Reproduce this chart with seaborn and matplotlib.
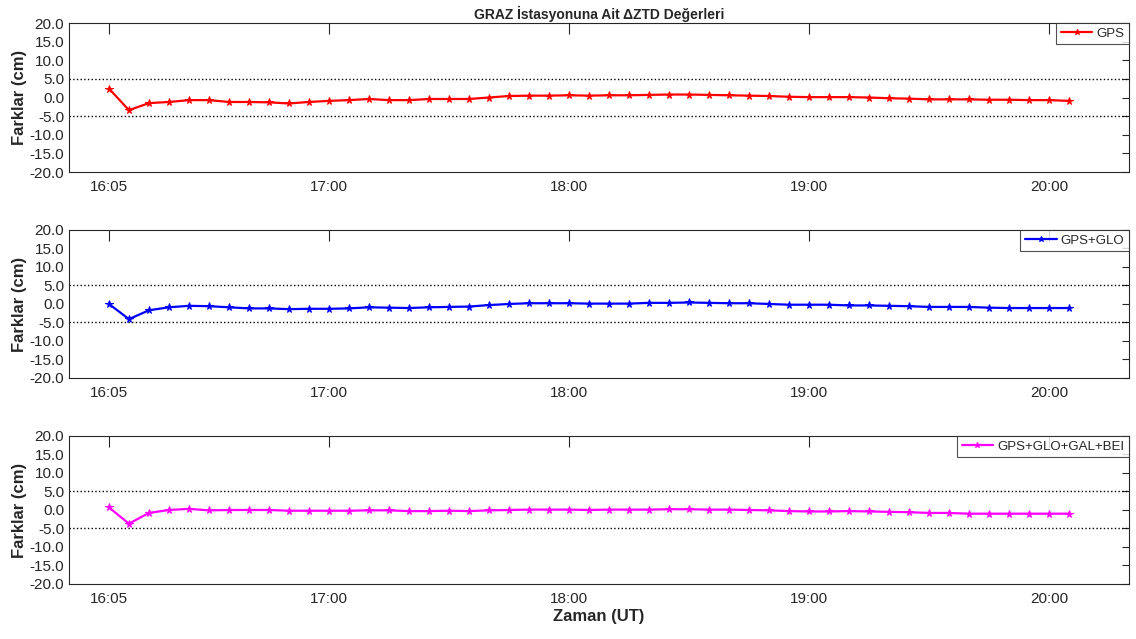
import pandas as pd
import matplotlib
matplotlib.use("Agg")
import matplotlib.pyplot as plt
import matplotlib.dates as mdates
import seaborn as sns


OUTPUT_PATH = "out.png"

TITLE = "GRAZ İstasyonuna Ait ΔZTD Değerleri"
Y_LABEL = "Farklar (cm)"
X_LABEL = "Zaman (UT)"

# epochs every 5 min, 16:05 - 20:05
START_TIME = "2020-01-01 16:05"
N_EPOCHS = 49
TICK_TIMES = ["16:05", "17:00", "18:00", "19:00", "20:00"]

SERIES_NAMES = ["GPS", "GPS+GLO", "GPS+GLO+GAL+BEI"]
SERIES_COLORS = ["#ff0000", "#0000ff", "#ff00ff"]

gps = [2.4, -3.4, -1.5, -1.2, -0.7, -0.7, -1.2, -1.2, -1.3, -1.6,
       -1.2, -0.9, -0.7, -0.4, -0.7, -0.7, -0.4, -0.4, -0.4, 0.0,
       0.4, 0.5, 0.5, 0.6, 0.5, 0.6, 0.6, 0.7, 0.8, 0.8,
       0.7, 0.6, 0.5, 0.4, 0.2, 0.1, 0.1, 0.1, 0.0, -0.2,
       -0.3, -0.5, -0.5, -0.5, -0.6, -0.6, -0.7, -0.7, -0.9]

gps_glo = [0.0, -4.1, -1.7, -0.9, -0.5, -0.6, -0.9, -1.2, -1.2, -1.4,
           -1.3, -1.3, -1.2, -0.9, -1.0, -1.1, -0.9, -0.8, -0.7, -0.3,
           0.0, 0.2, 0.2, 0.2, 0.1, 0.1, 0.1, 0.3, 0.3, 0.4,
           0.3, 0.2, 0.2, 0.0, -0.2, -0.2, -0.2, -0.4, -0.4, -0.5,
           -0.6, -0.8, -0.8, -0.8, -1.0, -1.1, -1.1, -1.1, -1.1]

gps_glo_gal_bei = [0.7, -3.7, -0.8, 0.0, 0.3, -0.1, 0.0, 0.0, 0.0, -0.2,
                   -0.2, -0.2, -0.2, -0.1, -0.1, -0.3, -0.3, -0.2, -0.3, -0.1,
                   0.0, 0.1, 0.1, 0.1, 0.0, 0.1, 0.1, 0.1, 0.2, 0.2,
                   0.1, 0.1, 0.0, -0.1, -0.3, -0.4, -0.4, -0.3, -0.4, -0.5,
                   -0.6, -0.8, -0.8, -1.0, -1.0, -1.0, -1.0, -1.0, -1.0]

SERIES_VALUES = [gps, gps_glo, gps_glo_gal_bei]

Y_TICKS = [-20, -15, -10, -5, 0, 5, 10, 15, 20]
LIMIT_LINES = [5, -5]


def build_frame() -> pd.DataFrame:
    """Long table of epochs and differences for each solution."""
    times = pd.date_range(START_TIME, periods=N_EPOCHS, freq="5min")
    frames = []
    for name, values in zip(SERIES_NAMES, SERIES_VALUES):
        frames.append(pd.DataFrame({"time": times, "diff": values, "solution": name}))
    return pd.concat(frames, ignore_index=True)


def style_axis(ax, show_xlabel: bool):
    day = START_TIME.split()[0]
    ax.set_xlim(pd.Timestamp(f"{day} 15:55"), pd.Timestamp(f"{day} 20:20"))
    ax.set_ylim(-20, 20)
    ax.set_yticks(Y_TICKS)
    ax.yaxis.set_major_formatter(matplotlib.ticker.FormatStrFormatter("%.1f"))
    ax.set_xticks([pd.Timestamp(f"{day} {t}") for t in TICK_TIMES])
    ax.xaxis.set_major_formatter(mdates.DateFormatter("%H:%M"))

    ax.tick_params(axis="both", direction="in", top=True, right=True,
                   labelsize=11, colors="#262626", length=5, width=0.8)
    ax.tick_params(axis="x", length=8, pad=6)
    for spine in ax.spines.values():
        spine.set_color("#262626")
        spine.set_linewidth(0.8)

    for level in LIMIT_LINES:
        ax.axhline(level, color="black", linestyle=":", linewidth=1.0)

    ax.set_ylabel(Y_LABEL, fontsize=12, fontweight="bold", labelpad=2)
    if show_xlabel:
        ax.set_xlabel(X_LABEL, fontsize=12, fontweight="bold", labelpad=2)
    else:
        ax.set_xlabel("")

    leg = ax.legend(loc="upper right", fontsize=9.5, frameon=True, fancybox=False,
                    borderaxespad=0.0, handlelength=2.4, handletextpad=0.3,
                    borderpad=0.35, markerscale=0.8)
    leg.get_frame().set_edgecolor("#262626")
    leg.get_frame().set_linewidth(0.8)


def main():
    sns.set_theme(style="white")
    plt.rcParams["font.family"] = ["Liberation Sans", "DejaVu Sans"]

    df = build_frame()

    fig = plt.figure(figsize=(11.36, 6.39), dpi=100)
    positions = [
        [0.0607, 0.7308, 0.9331, 0.2332],
        [0.0607, 0.4085, 0.9331, 0.2316],
        [0.0607, 0.0861, 0.9331, 0.2316],
    ]

    for i, (name, color) in enumerate(zip(SERIES_NAMES, SERIES_COLORS)):
        ax = fig.add_axes(positions[i])
        sub = df[df["solution"] == name]
        sns.lineplot(data=sub, x="time", y="diff", ax=ax, color=color,
                     marker="*", markersize=5.5, markeredgecolor=color,
                     linewidth=1.6, label=name)
        style_axis(ax, show_xlabel=(i == len(SERIES_NAMES) - 1))
        if i == 0:
            ax.set_title(TITLE, fontsize=10, fontweight="bold", pad=3)

    fig.savefig(OUTPUT_PATH, dpi=100)


if __name__ == "__main__":
    main()
